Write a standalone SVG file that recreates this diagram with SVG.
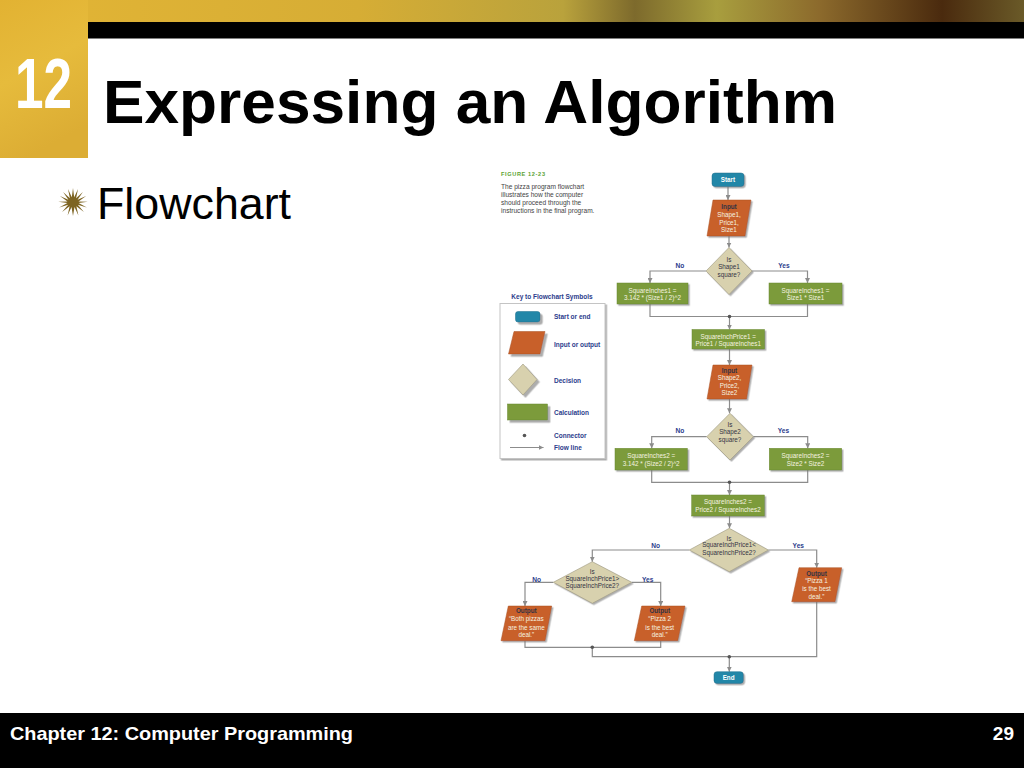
<svg xmlns="http://www.w3.org/2000/svg" width="1024" height="768" viewBox="0 0 1024 768">
<defs>
<linearGradient id="band" x1="0" y1="0" x2="1" y2="0">
<stop offset="0" stop-color="#e3b535"/>
<stop offset="0.35" stop-color="#d6ad35"/>
<stop offset="0.55" stop-color="#b9a23c"/>
<stop offset="0.62" stop-color="#7d6a2c"/>
<stop offset="0.7" stop-color="#a89e3e"/>
<stop offset="0.8" stop-color="#8c6a2c"/>
<stop offset="0.92" stop-color="#4a2a0e"/>
<stop offset="1" stop-color="#6a5a28"/>
</linearGradient>
<linearGradient id="sq" x1="0" y1="0" x2="0.3" y2="1">
<stop offset="0" stop-color="#e2b232"/>
<stop offset="0.5" stop-color="#e6bb3c"/>
<stop offset="1" stop-color="#dcad34"/>
</linearGradient>
<filter id="sh" x="-20%" y="-20%" width="150%" height="150%">
<feDropShadow dx="1.5" dy="1.5" stdDeviation="0.5" flood-color="#777" flood-opacity="0.6"/>
</filter>
<filter id="sh2" x="-20%" y="-20%" width="150%" height="150%">
<feDropShadow dx="2.5" dy="2.5" stdDeviation="0.4" flood-color="#999" flood-opacity="0.8"/>
</filter>
<marker id="ar" viewBox="0 0 10 10" refX="10" refY="5" markerWidth="5" markerHeight="5" markerUnits="userSpaceOnUse" orient="auto">
<path d="M0,0 L10,5 L0,10 z" fill="#8c8c8c"/>
</marker>
<style>
.io{fill:#c8612b;stroke:#a94f22;stroke-width:0.5;filter:url(#sh)}
.dec{fill:#d8d1ae;stroke:#9c977f;stroke-width:0.6;filter:url(#sh)}
.calc{fill:#7b9b3b;stroke:#68882f;stroke-width:0.5;filter:url(#sh)}
.term{fill:#2387a8;stroke:#1b6d8a;stroke-width:0.5;filter:url(#sh)}
.ln{stroke:#8c8c8c;stroke-width:1.2;fill:none}
.dot{fill:#555}
.t{font-family:"Liberation Sans",Arial,sans-serif;font-size:6.3px;text-anchor:middle}
.w{fill:#f6f3e0}
.dk{fill:#333344}
.b{font-weight:bold}
.lbl{font-family:"Liberation Sans",Arial,sans-serif;font-size:6.6px;font-weight:bold;fill:#2b3c8c;text-anchor:middle}
.key{font-family:"Liberation Sans",Arial,sans-serif;font-size:6.5px;font-weight:bold;fill:#2b3c8c}
.cap{font-family:"Liberation Sans",Arial,sans-serif;font-size:6.6px;fill:#444}
</style>
</defs>

<rect width="1024" height="768" fill="#ffffff"/>

<g id="header">
<rect x="0" y="0" width="1024" height="23" fill="url(#band)"/>
<rect x="0" y="0" width="88" height="158" fill="url(#sq)"/>
<rect x="88" y="22" width="936" height="16.5" fill="#000000"/>
<text x="15" y="108" font-family="'Liberation Sans',Arial,sans-serif" font-size="70" font-weight="bold" fill="#ffffff" textLength="57" lengthAdjust="spacingAndGlyphs">12</text>
<text x="103" y="123" font-family="'Liberation Sans',Arial,sans-serif" font-size="62" font-weight="bold" fill="#000000" textLength="734" lengthAdjust="spacingAndGlyphs">Expressing an Algorithm</text>
</g>

<g id="bullet">
<polygon fill="#7d6422" points="73,188 74.2,197.2 78,189.1 76.1,198.2 82.9,192.1 77.6,199.7 86.1,196.1 78.5,201.4 87.8,201.8 78.6,203.1 86.8,207.5 77.8,204.8 83.9,211.9 76.4,206.2 78.4,215.4 74.5,206.9 73,216.1 71.5,206.9 67.6,215.4 69.6,206.2 62.1,211.9 68.2,204.8 59.2,207.5 67.4,203.1 58.2,201.8 67.5,201.4 59.9,196.1 68.4,199.7 63.1,192.1 69.9,198.2 68,189.1 71.8,197.2"/>
<text x="97" y="219" font-family="'Liberation Sans',Arial,sans-serif" font-size="44" fill="#000000" textLength="194" lengthAdjust="spacingAndGlyphs">Flowchart</text>
</g>

<g id="caption">
<text x="501" y="176" font-family="'Liberation Sans',Arial,sans-serif" font-size="5.6" font-weight="bold" fill="#5aa232" textLength="44" lengthAdjust="spacing">FIGURE 12-23</text>
<text class="cap" x="501" y="188.5">The pizza program flowchart</text>
<text class="cap" x="501" y="196.8">illustrates how the computer</text>
<text class="cap" x="501" y="205.1">should proceed through the</text>
<text class="cap" x="501" y="213.4">instructions in the final program.</text>
</g>

<g id="key">
<text class="key" x="552" y="299" text-anchor="middle" font-size="6.3">Key to Flowchart Symbols</text>
<rect x="500" y="303.5" width="105" height="155" fill="#ffffff" stroke="#c4c4c4" stroke-width="1" filter="url(#sh)"/>
<rect x="515.5" y="311.5" width="24.5" height="10.5" rx="2.5" fill="#2387a8" stroke="#1b6d8a" stroke-width="0.5" filter="url(#sh2)"/>
<text class="key" x="554" y="319">Start or end</text>
<polygon points="514,331.5 545,331.5 540,354 508.5,354" fill="#c8612b" stroke="#a94f22" stroke-width="0.5" filter="url(#sh2)"/>
<text class="key" x="554" y="346.5">Input or output</text>
<polygon points="523,364 537,379.5 523,395 508.5,379.5" fill="#d8d1ae" stroke="#9c977f" stroke-width="0.6" filter="url(#sh2)"/>
<text class="key" x="554" y="383">Decision</text>
<rect x="507.5" y="404" width="40" height="16" fill="#7b9b3b" stroke="#68882f" stroke-width="0.5" filter="url(#sh2)"/>
<text class="key" x="554" y="415">Calculation</text>
<circle class="dot" cx="524.5" cy="435.5" r="1.8"/>
<text class="key" x="554" y="438">Connector</text>
<line class="ln" x1="510" y1="447.5" x2="543.5" y2="447.5" stroke-width="0.9" marker-end="url(#ar)"/>
<text class="key" x="554" y="450">Flow line</text>
</g>

<g id="connectors">
<line class="ln" x1="728" y1="186.5" x2="728" y2="200" marker-end="url(#ar)"/>
<line class="ln" x1="729" y1="236" x2="729" y2="247.5" marker-end="url(#ar)"/>
<polyline class="ln" points="706,271 650,271 650,283" marker-end="url(#ar)"/>
<polyline class="ln" points="752,271 807.5,271 807.5,283" marker-end="url(#ar)"/>
<polyline class="ln" points="650,304 650,316.5 807.5,316.5 807.5,304"/>
<line class="ln" x1="729.5" y1="316.5" x2="729.5" y2="329.5" marker-end="url(#ar)"/>
<line class="ln" x1="729.5" y1="349" x2="729.5" y2="365" marker-end="url(#ar)"/>
<line class="ln" x1="729.5" y1="399" x2="729.5" y2="413.3" marker-end="url(#ar)"/>
<polyline class="ln" points="706.7,436.7 651.7,436.7 651.7,448.3" marker-end="url(#ar)"/>
<polyline class="ln" points="753.3,436.7 807.7,436.7 807.7,448.3" marker-end="url(#ar)"/>
<polyline class="ln" points="651.7,470 651.7,482.3 807.7,482.3 807.7,470"/>
<line class="ln" x1="729.5" y1="482.3" x2="729.5" y2="495" marker-end="url(#ar)"/>
<line class="ln" x1="729.5" y1="516" x2="729.5" y2="528.3" marker-end="url(#ar)"/>
<polyline class="ln" points="689.3,550 592.3,550 592.3,561.7" marker-end="url(#ar)"/>
<polyline class="ln" points="768.3,550 816.7,550 816.7,567.7" marker-end="url(#ar)"/>
<polyline class="ln" points="553.3,582.3 525,582.3 525,606" marker-end="url(#ar)"/>
<polyline class="ln" points="631.7,582.3 660.7,582.3 660.7,606" marker-end="url(#ar)"/>
<polyline class="ln" points="525,640.7 525,647.3 660.7,647.3 660.7,640.7"/>
<polyline class="ln" points="592.3,647.3 592.3,656.7 816.7,656.7 816.7,601.7"/>
<line class="ln" x1="729.3" y1="656.7" x2="729.3" y2="671.7" marker-end="url(#ar)"/>
<circle class="dot" cx="729.5" cy="316.5" r="1.8"/>
<circle class="dot" cx="729.5" cy="482.3" r="1.8"/>
<circle class="dot" cx="592.3" cy="647.3" r="1.8"/>
<circle class="dot" cx="729.3" cy="656.7" r="1.8"/>
<text class="lbl" x="680" y="267.5">No</text>
<text class="lbl" x="784" y="267.5">Yes</text>
<text class="lbl" x="680" y="433">No</text>
<text class="lbl" x="783.5" y="433">Yes</text>
<text class="lbl" x="655.7" y="547.5">No</text>
<text class="lbl" x="798.3" y="547.5">Yes</text>
<text class="lbl" x="536.7" y="581.5">No</text>
<text class="lbl" x="647.7" y="581.5">Yes</text>
</g>

<g id="start">
<rect class="term" x="712" y="173" width="32" height="13.5" rx="3"/>
<text class="t b" x="728" y="182.2" fill="#ffffff" font-size="6.8">Start</text>
</g>

<g id="input1">
<polygon class="io" points="713,200 751,200 745,236 707,236"/>
<text class="t b dk" x="729" y="209">Input</text>
<text class="t w" x="729" y="216.7">Shape1,</text>
<text class="t w" x="729" y="224.5">Price1,</text>
<text class="t w" x="729" y="232.3">Size1</text>
</g>

<g id="decision1">
<polygon class="dec" points="729,247.5 752,271 729,294.5 706,271"/>
<text class="t dk" x="729" y="261.5">Is</text>
<text class="t dk" x="729" y="269">Shape1</text>
<text class="t dk" x="729" y="276.5">square?</text>
</g>

<g id="calc1a">
<rect class="calc" x="617" y="283" width="71" height="21"/>
<text class="t w" x="652.5" y="292.8">SquareInches1 =</text>
<text class="t w" x="652.5" y="300.3">3.142 * (Size1 / 2)^2</text>
</g>

<g id="calc1b">
<rect class="calc" x="769" y="283" width="73" height="21"/>
<text class="t w" x="805.5" y="292.8">SquareInches1 =</text>
<text class="t w" x="805.5" y="300.3">Size1 * Size1</text>
</g>

<g id="price1">
<rect class="calc" x="692" y="329.5" width="72.5" height="19.5"/>
<text class="t w" x="728.2" y="338.8">SquareInchPrice1 =</text>
<text class="t w" x="728.2" y="346.3">Price1 / SquareInches1</text>
</g>

<g id="input2">
<polygon class="io" points="713,365 752,365 746.5,399 707,399"/>
<text class="t b dk" x="729.5" y="372.5">Input</text>
<text class="t w" x="729.5" y="379.9">Shape2,</text>
<text class="t w" x="729.5" y="387.5">Price2,</text>
<text class="t w" x="729.5" y="395.1">Size2</text>
</g>

<g id="decision2">
<polygon class="dec" points="730,413.3 753.3,436.7 730,460 706.7,436.7"/>
<text class="t dk" x="730" y="426.6">Is</text>
<text class="t dk" x="730" y="434.3">Shape2</text>
<text class="t dk" x="730" y="442.2">square?</text>
</g>

<g id="calc2a">
<rect class="calc" x="615" y="448.3" width="72.3" height="21.7"/>
<text class="t w" x="651.2" y="458">SquareInches2 =</text>
<text class="t w" x="651.2" y="465.6">3.142 * (Size2 / 2)^2</text>
</g>

<g id="calc2b">
<rect class="calc" x="769.3" y="448.3" width="72.4" height="21.7"/>
<text class="t w" x="805.5" y="458">SquareInches2 =</text>
<text class="t w" x="805.5" y="465.6">Size2 * Size2</text>
</g>

<g id="price2">
<rect class="calc" x="691.7" y="495" width="72.6" height="21"/>
<text class="t w" x="728" y="504">SquareInches2 =</text>
<text class="t w" x="728" y="511.6">Price2 / SquareInches2</text>
</g>

<g id="decision3">
<polygon class="dec" points="729.3,528.3 768.3,550 729.3,571.7 689.3,550"/>
<text class="t dk" x="729" y="540.5" font-size="5.9">Is</text>
<text class="t dk" x="729" y="547.3" font-size="5.9">SquareInchPrice1&lt;</text>
<text class="t dk" x="729" y="554.6" font-size="5.9">SquareInchPrice2?</text>
</g>

<g id="output1">
<polygon class="io" points="799,567.7 841.7,567.7 835,601.7 791.7,601.7"/>
<text class="t b dk" x="816.5" y="575.6">Output</text>
<text class="t w" x="816.5" y="583.3">“Pizza 1</text>
<text class="t w" x="816.5" y="591.2">is the best</text>
<text class="t w" x="816.5" y="598.9">deal.”</text>
</g>

<g id="decision4">
<polygon class="dec" points="592.3,561.7 631.7,582.3 592.3,603.3 553.3,582.3"/>
<text class="t dk" x="592.3" y="574" font-size="5.9">Is</text>
<text class="t dk" x="592.3" y="581.3" font-size="5.9">SquareInchPrice1&gt;</text>
<text class="t dk" x="592.3" y="588.1" font-size="5.9">SquareInchPrice2?</text>
</g>

<g id="output3">
<polygon class="io" points="508.3,606 551.7,606 545,640.7 501,640.7"/>
<text class="t b dk" x="526.3" y="613.3">Output</text>
<text class="t w" x="526.3" y="621.3">“Both pizzas</text>
<text class="t w" x="526.3" y="629.5">are the same</text>
<text class="t w" x="526.3" y="637.2">deal.”</text>
</g>

<g id="output2">
<polygon class="io" points="641.7,606 685,606 677.7,640.7 634.3,640.7"/>
<text class="t b dk" x="659.7" y="613.3">Output</text>
<text class="t w" x="659.7" y="621.3">“Pizza 2</text>
<text class="t w" x="659.7" y="629.5">is the best</text>
<text class="t w" x="659.7" y="637.2">deal.”</text>
</g>

<g id="end">
<rect class="term" x="714" y="671.7" width="29.3" height="11.7" rx="3"/>
<text class="t b" x="728.6" y="680" fill="#ffffff" font-size="6.8">End</text>
</g>

<g id="footer">
<rect x="0" y="713" width="1024" height="55" fill="#000000"/>
<text x="10" y="740" font-family="'Liberation Sans',Arial,sans-serif" font-size="19" font-weight="bold" fill="#ffffff" textLength="343" lengthAdjust="spacingAndGlyphs">Chapter 12: Computer Programming</text>
<text x="1014" y="740" font-family="'Liberation Sans',Arial,sans-serif" font-size="19" font-weight="bold" fill="#ffffff" text-anchor="end">29</text>
</g>
</svg>
